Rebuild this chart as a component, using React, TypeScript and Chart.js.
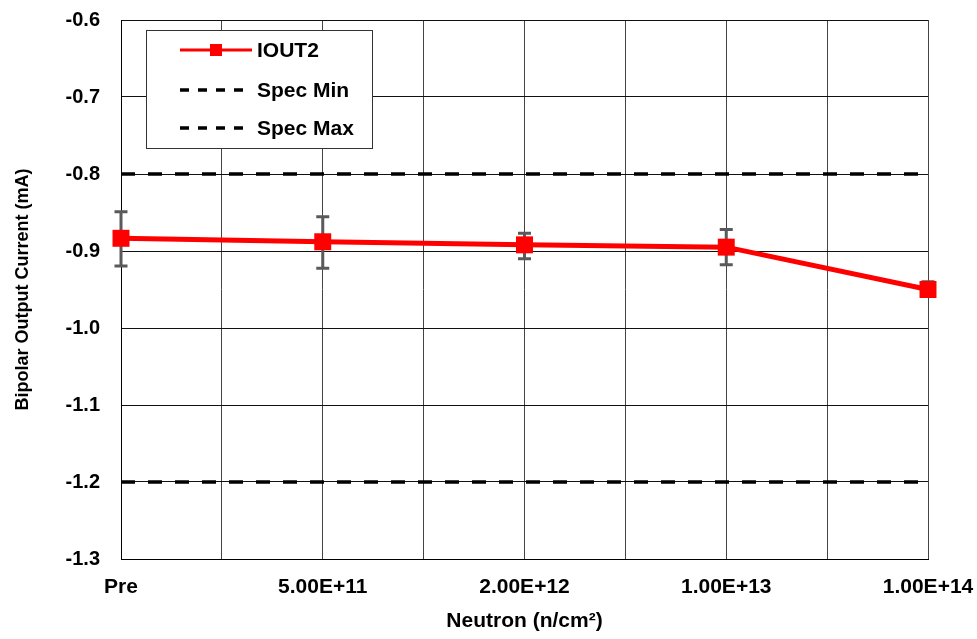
import React, { useEffect, useRef } from "react";
import { Chart, registerables } from "chart.js";

Chart.register(...registerables);

const categories = ["Pre", "5.00E+11", "2.00E+12", "1.00E+13", "1.00E+14"];
const iout2 = [-0.8835, -0.888, -0.892, -0.895, -0.95];
const errHigh = [-0.849, -0.8555, -0.877, -0.872, -0.94];
const errLow = [-0.9195, -0.9225, -0.91, -0.918, -0.958];
const specMin = -0.8;
const specMax = -1.2;
const yTicks = [-1.3, -1.2, -1.1, -1.0, -0.9, -0.8, -0.7, -0.6];

const FONT = "'Liberation Sans', Arial, Helvetica, sans-serif";

const errorBarPlugin = {
  id: "errorBars",
  beforeDatasetsDraw(chart: any) {
    const x = chart.scales.x;
    const y = chart.scales.y;
    const ctx = chart.ctx;
    ctx.save();
    ctx.strokeStyle = "#5a5a5a";
    ctx.lineWidth = 3;
    ctx.lineCap = "butt";
    for (let i = 0; i < categories.length; i++) {
      const px = x.getPixelForValue(i);
      const yh = y.getPixelForValue(errHigh[i]);
      const yl = y.getPixelForValue(errLow[i]);
      ctx.beginPath();
      ctx.moveTo(px, yh);
      ctx.lineTo(px, yl);
      ctx.moveTo(px - 6.5, yh);
      ctx.lineTo(px + 6.5, yh);
      ctx.moveTo(px - 6.5, yl);
      ctx.lineTo(px + 6.5, yl);
      ctx.stroke();
    }
    ctx.restore();
  },
};

const legendPlugin = {
  id: "boxLegend",
  afterDatasetsDraw(chart: any) {
    const ctx = chart.ctx;
    const area = chart.chartArea;
    const left = area.left + 25;
    const top = area.top + 10;
    const w = 226;
    const h = 118;
    ctx.save();
    ctx.fillStyle = "#ffffff";
    ctx.fillRect(left, top, w, h);
    ctx.strokeStyle = "#333333";
    ctx.lineWidth = 1;
    ctx.strokeRect(left + 0.5, top + 0.5, w, h);
    const rows = chart.data.datasets;
    const rowY = [top + 20, top + 60, top + 98];
    ctx.font = `bold 21px ${FONT}`;
    ctx.textBaseline = "middle";
    ctx.textAlign = "left";
    rows.forEach((ds: any, i: number) => {
      const y = rowY[i];
      const x0 = left + 34;
      const x1 = left + 106;
      ctx.strokeStyle = ds.borderColor;
      ctx.lineWidth = i === 0 ? 3 : 3.5;
      ctx.setLineDash(i === 0 ? [] : [9, 9]);
      ctx.beginPath();
      ctx.moveTo(x0, y);
      ctx.lineTo(x1, y);
      ctx.stroke();
      ctx.setLineDash([]);
      if (i === 0) {
        ctx.fillStyle = ds.backgroundColor;
        ctx.fillRect((x0 + x1) / 2 - 6, y - 6, 12, 12);
      }
      ctx.fillStyle = "#000000";
      ctx.fillText(ds.label, left + 111, y + 1);
    });
    ctx.restore();
  },
};

export default function App() {
  const ref = useRef<HTMLCanvasElement | null>(null);
  useEffect(() => {
    document.body.style.margin = "0";
    const canvas = ref.current!;
    const n = categories.length - 1;
    const chart = new Chart(canvas, {
      type: "line",
      data: {
        datasets: [
          {
            label: "IOUT2",
            data: iout2.map((v, i) => ({ x: i, y: v })),
            borderColor: "#ff0000",
            backgroundColor: "#ff0000",
            borderWidth: 5,
            pointStyle: "rect",
            pointRadius: 12,
            pointBorderWidth: 0,
            clip: false,
          } as any,
          {
            label: "Spec Min",
            data: [
              { x: 0, y: specMin },
              { x: n, y: specMin },
            ],
            borderColor: "#000000",
            backgroundColor: "#000000",
            borderWidth: 3.5,
            borderDash: [14, 13],
            pointRadius: 0,
          },
          {
            label: "Spec Max",
            data: [
              { x: 0, y: specMax },
              { x: n, y: specMax },
            ],
            borderColor: "#000000",
            backgroundColor: "#000000",
            borderWidth: 3.5,
            borderDash: [14, 13],
            pointRadius: 0,
          },
        ],
      },
      options: {
        animation: false,
        responsive: true,
        maintainAspectRatio: false,
        layout: { padding: { top: 20, right: 49, left: 0, bottom: 0 } },
        plugins: {
          legend: { display: false },
          tooltip: { enabled: false },
        },
        scales: {
          x: {
            type: "linear",
            min: 0,
            max: n,
            grid: {
              color: "#444444",
              lineWidth: 1,
              drawTicks: true,
              tickLength: 16,
              tickColor: "rgba(0,0,0,0)",
            },
            border: { color: "#000000", width: 1 },
            ticks: {
              stepSize: 0.5,
              autoSkip: false,
              maxRotation: 0,
              padding: 0,
              color: "#000000",
              font: { family: FONT, size: 21, weight: "bold" },
              callback: (v: any) =>
                Number.isInteger(v) ? categories[v] : "",
            },
            title: {
              display: true,
              text: "Neutron (n/cm²)",
              color: "#000000",
              font: { family: FONT, size: 21, weight: "bold" },
              padding: { top: 8, bottom: 5 },
            },
            afterFit: (s: any) => {
              s.height = 80;
            },
          },
          y: {
            type: "linear",
            min: yTicks[0],
            max: yTicks[yTicks.length - 1],
            grid: {
              color: "#111111",
              lineWidth: 1,
              drawTicks: true,
              tickLength: 21,
              tickColor: "rgba(0,0,0,0)",
            },
            border: { color: "#000000", width: 1 },
            ticks: {
              stepSize: 0.1,
              padding: 0,
              color: "#000000",
              font: { family: FONT, size: 20, weight: "bold" },
              callback: (v: any) => Number(v).toFixed(1),
            },
            title: {
              display: true,
              text: "Bipolar Output Current (mA)",
              color: "#000000",
              font: { family: FONT, size: 18, weight: "bold" },
              padding: { top: 12, bottom: 0 },
            },
            afterFit: (s: any) => {
              s.width = 121;
            },
          },
        },
      },
      plugins: [errorBarPlugin, legendPlugin],
    });
    return () => chart.destroy();
  }, []);
  return (
    <div style={{ width: 977, height: 639, position: "relative" }}>
      <canvas ref={ref} />
    </div>
  );
}
